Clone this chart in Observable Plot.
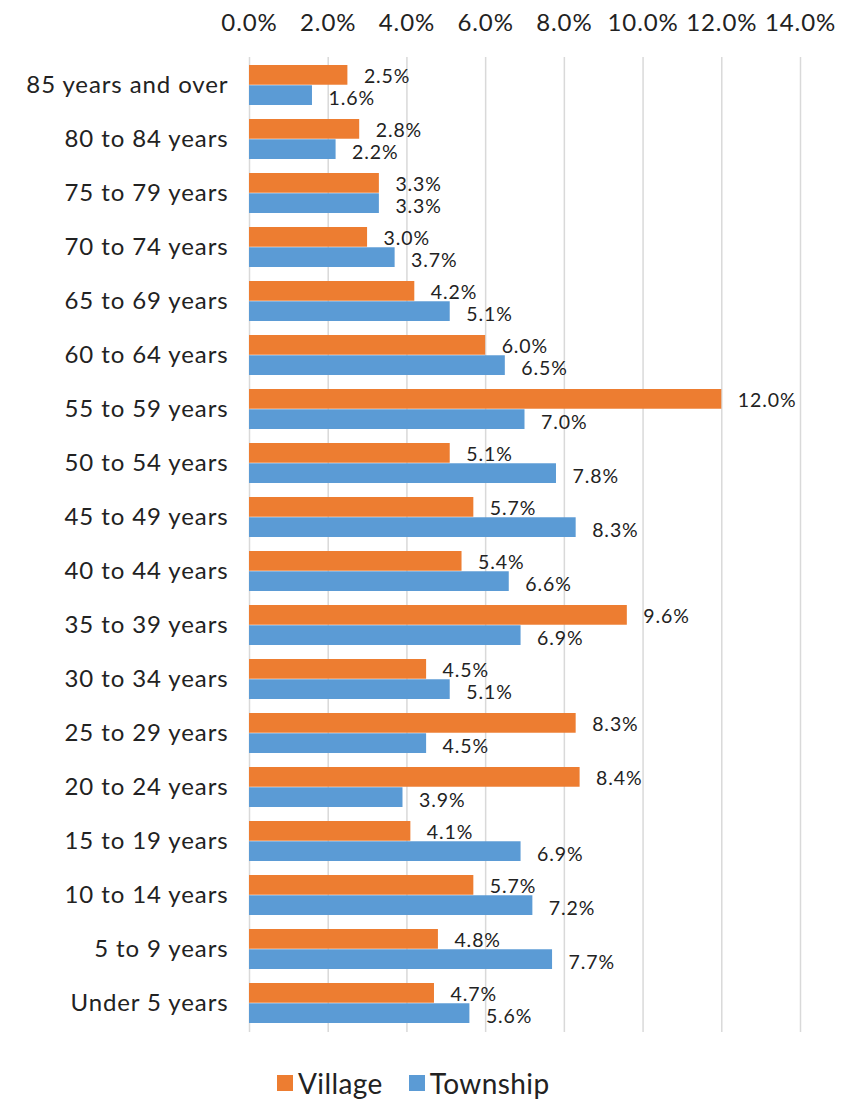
<!DOCTYPE html>
<html>
<head>
<meta charset="utf-8">
<script src="https://cdn.jsdelivr.net/npm/d3@7"></script>
<script src="https://cdn.jsdelivr.net/npm/@observablehq/plot@0.6"></script>
<style>
  body { margin: 0; background: #fff; font-family: "Lato", sans-serif; }
  #wrap { position: relative; width: 854px; height: 1100px; }
  #chart svg text { letter-spacing: 0.9px; }
  #legend { position: absolute; left: 277px; top: 1066px; display: flex; align-items: center; font-size: 28px; letter-spacing: 0.4px; color: #222; }
  .sw { width: 16px; height: 16px; display: inline-block; margin-right: 5px; }
  .item { display: flex; align-items: center; margin-right: 26px; }
</style>
</head>
<body>
<div id="wrap">
  <div id="chart"></div>
  <div id="legend"></div>
</div>
<script>
const categories = [
  "85 years and over", "80 to 84 years", "75 to 79 years", "70 to 74 years",
  "65 to 69 years", "60 to 64 years", "55 to 59 years", "50 to 54 years",
  "45 to 49 years", "40 to 44 years", "35 to 39 years", "30 to 34 years",
  "25 to 29 years", "20 to 24 years", "15 to 19 years", "10 to 14 years",
  "5 to 9 years", "Under 5 years"
];
const village = [2.5, 2.8, 3.3, 3.0, 4.2, 6.0, 12.0, 5.1, 5.7, 5.4, 9.6, 4.5, 8.3, 8.4, 4.1, 5.7, 4.8, 4.7];
const township = [1.6, 2.2, 3.3, 3.7, 5.1, 6.5, 7.0, 7.8, 8.3, 6.6, 6.9, 5.1, 4.5, 3.9, 6.9, 7.2, 7.7, 5.6];
const xTicks = [0, 2, 4, 6, 8, 10, 12, 14];
const seriesNames = ["Village", "Township"];
const colors = ["#ED7D31", "#5B9BD5"];

const vData = categories.map((c, i) => ({category: c, value: village[i]}));
const tData = categories.map((c, i) => ({category: c, value: township[i]}));

const width = 854, height = 1050;
const marginTop = 57, marginBottom = 18, marginLeft = 249, marginRight = 54;
const paddingInner = 0.253, paddingOuter = 0.11;
const n = categories.length;
const step = (height - marginTop - marginBottom) / (n - paddingInner + 2 * paddingOuter);
const bw = step * (1 - paddingInner);
const half = bw / 2;
const fmt = d => d.toFixed(1) + "%";

const chart = Plot.plot({
  width, height, marginTop, marginBottom, marginLeft, marginRight,
  style: {fontFamily: "Lato, sans-serif", fontSize: "24px", color: "#222", background: "#fff"},
  x: {domain: [0, 14], ticks: xTicks, axis: "top", tickFormat: fmt, tickSize: 0, tickPadding: 27, label: null, grid: false},
  y: {domain: categories, paddingInner, paddingOuter, tickSize: 0, tickPadding: 21, label: null},
  marks: [
    Plot.ruleX(xTicks, {stroke: "#d9d9d9", strokeWidth: 1.5}),
    Plot.barX(vData, {x: "value", y: "category", fill: colors[0], insetBottom: half}),
    Plot.barX(tData, {x: "value", y: "category", fill: colors[1], insetTop: half}),
    Plot.text(vData, {x: "value", y: "category", text: d => fmt(d.value), dx: 16, dy: -half / 2 + 1, textAnchor: "start", fontSize: 19.5, fill: "#222"}),
    Plot.text(tData, {x: "value", y: "category", text: d => fmt(d.value), dx: 16, dy: half / 2 + 3, textAnchor: "start", fontSize: 19.5, fill: "#222"})
  ]
});
document.getElementById("chart").appendChild(chart);

const legend = document.getElementById("legend");
seriesNames.forEach((name, i) => {
  const item = document.createElement("div");
  item.className = "item";
  const sw = document.createElement("span");
  sw.className = "sw";
  sw.style.background = colors[i];
  const t = document.createElement("span");
  t.textContent = name;
  item.appendChild(sw);
  item.appendChild(t);
  legend.appendChild(item);
});
</script>
</body>
</html>
